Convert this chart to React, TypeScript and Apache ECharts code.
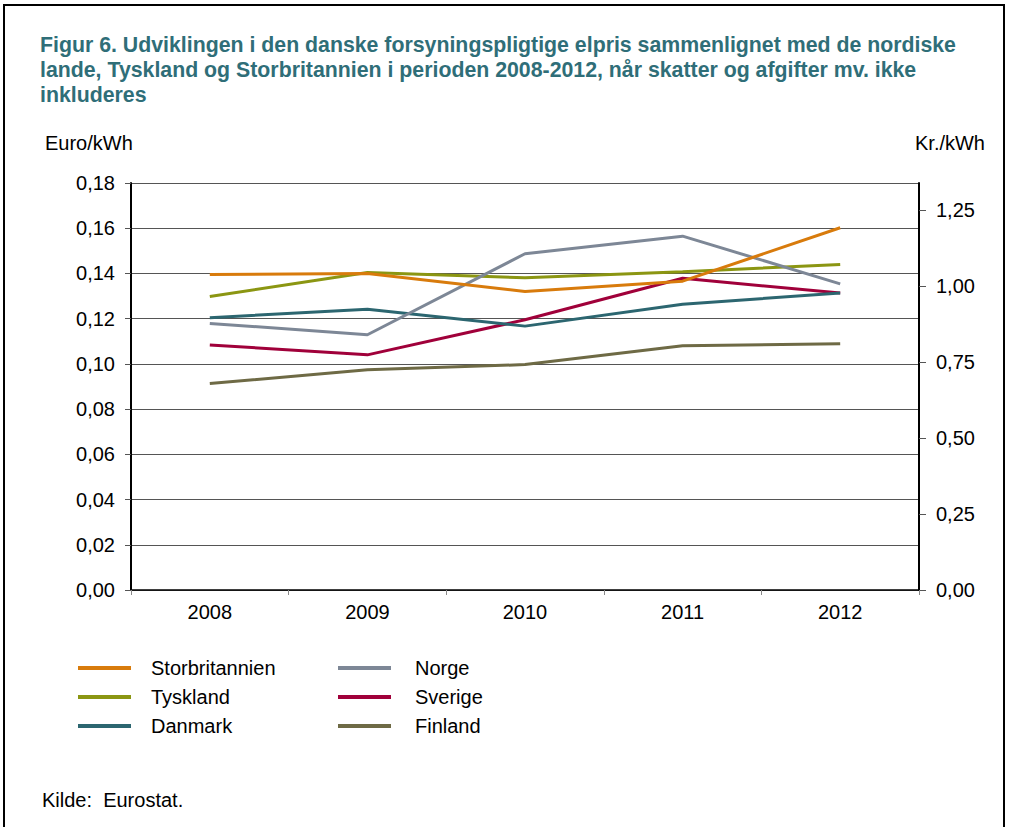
import React, { useEffect, useRef } from "react";
import * as echarts from "echarts";

const years = ["2008", "2009", "2010", "2011", "2012"];
const storbritannien = [0.1395, 0.140, 0.132, 0.1366, 0.1602];
const tyskland = [0.1298, 0.1404, 0.1381, 0.1407, 0.144];
const danmark = [0.1204, 0.1242, 0.1167, 0.1264, 0.1313];
const norge = [0.1179, 0.1129, 0.1487, 0.1565, 0.1354];
const sverige = [0.1084, 0.104, 0.1195, 0.1379, 0.1313];
const finland = [0.0913, 0.0974, 0.0997, 0.108, 0.1089];

const eurToDkk = 7.44;
const leftMax = 0.18;

const FONT = "'Liberation Sans', Arial, sans-serif";
const FS = 20;

export default function App() {
  const ref = useRef<HTMLDivElement>(null);
  useEffect(() => {
    if (!ref.current) return;
    const chart = echarts.init(ref.current, null, { renderer: "svg" });
    const mk = (name: string, data: number[], color: string) => ({
      name,
      type: "line",
      data,
      yAxisIndex: 0,
      symbol: "none",
      lineStyle: { color, width: 3 },
      itemStyle: { color },
    });
    const legendCommon = {
      orient: "vertical",
      icon: "rect",
      itemWidth: 53,
      itemHeight: 4,
      itemGap: 9,
      textStyle: { fontFamily: FONT, fontSize: FS, color: "#000", lineHeight: 20 },
    };
    chart.setOption({
      animation: false,
      backgroundColor: "#fff",
      textStyle: { fontFamily: FONT },
      title: [
        {
          text:
            "Figur 6. Udviklingen i den danske forsyningspligtige elpris sammenlignet med de nordiske\nlande, Tyskland og Storbritannien i perioden 2008-2012, når skatter og afgifter mv. ikke\ninkluderes",
          left: 40,
          top: 32,
          padding: 0,
          textStyle: { fontFamily: FONT, fontSize: 21.3, fontWeight: "bold", color: "#2F6E78", lineHeight: 25 },
        },
        {
          text: "Kilde:  Eurostat.",
          left: 42,
          top: 790,
          padding: 0,
          textStyle: { fontFamily: FONT, fontSize: FS, fontWeight: "normal", color: "#000" },
        },
      ],
      legend: [
        { ...legendCommon, left: 73, top: 653, data: ["Storbritannien", "Tyskland", "Danmark"], textStyle: { ...legendCommon.textStyle, padding: [0, 0, 0, 15] } },
        { ...legendCommon, left: 333, top: 653, data: ["Norge", "Sverige", "Finland"], textStyle: { ...legendCommon.textStyle, padding: [0, 0, 0, 19] } },
      ],
      grid: { left: 131, right: 90, top: 183, bottom: 237 },
      xAxis: {
        type: "category",
        data: years,
        boundaryGap: true,
        axisLine: { lineStyle: { color: "#000", width: 1.5 } },
        axisTick: { show: true, length: 5, lineStyle: { color: "#888" } },
        axisLabel: { fontFamily: FONT, fontSize: FS, color: "#000", margin: 12 },
      },
      yAxis: [
        {
          type: "value",
          min: 0,
          max: leftMax,
          interval: 0.02,
          name: "Euro/kWh",
          nameLocation: "end",
          nameGap: 30,
          nameTextStyle: { fontFamily: FONT, fontSize: FS, color: "#000", align: "left", padding: [0, 0, 0, -86] },
          axisLine: { show: true, lineStyle: { color: "#000", width: 2 } },
          axisTick: { show: true, length: 6, lineStyle: { color: "#555" } },
          axisLabel: {
            fontFamily: FONT,
            fontSize: FS,
            color: "#000",
            margin: 16,
            formatter: (v: number) => v.toFixed(2).replace(".", ","),
          },
          splitLine: { show: true, lineStyle: { color: "#555", width: 1 } },
        },
        {
          type: "value",
          min: 0,
          max: leftMax * eurToDkk,
          interval: 0.25,
          position: "right",
          name: "Kr./kWh",
          nameLocation: "end",
          nameGap: 30,
          nameTextStyle: { fontFamily: FONT, fontSize: FS, color: "#000", align: "right", padding: [0, -66, 0, 0] },
          axisLine: { show: true, lineStyle: { color: "#000", width: 2 } },
          axisTick: { show: true, length: 7, lineStyle: { color: "#555" } },
          axisLabel: {
            fontFamily: FONT,
            fontSize: FS,
            color: "#000",
            margin: 17,
            showMaxLabel: false,
            formatter: (v: number) => v.toFixed(2).replace(".", ","),
          },
          splitLine: { show: false },
        },
      ],
      graphic: [
        {
          type: "rect",
          shape: { x: 4, y: 5, width: 1000, height: 900 },
          style: { fill: "none", stroke: "#000", lineWidth: 2 },
          silent: true,
        },
      ],
      series: [
        mk("Finland", finland, "#6E6A45"),
        mk("Sverige", sverige, "#A0003A"),
        mk("Danmark", danmark, "#2C6670"),
        mk("Tyskland", tyskland, "#8B9612"),
        mk("Norge", norge, "#7D8796"),
        mk("Storbritannien", storbritannien, "#D87B0C"),
      ],
    });
    return () => chart.dispose();
  }, []);
  return <div ref={ref} style={{ width: 1009, height: 827, position: "absolute", left: 0, top: 0 }} />;
}
